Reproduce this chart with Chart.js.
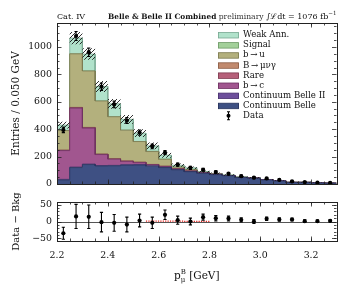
<!DOCTYPE html>
<html>
<head>
<meta charset="utf-8">
<script src="https://cdn.jsdelivr.net/npm/chart.js@4.4.1/dist/chart.umd.min.js"></script>
<style>
  html, body { margin: 0; padding: 0; background: #fff; }
  #wrap { position: relative; width: 349px; height: 291px; }
  #wrap canvas { position: absolute; left: 0; top: 0; }
</style>
</head>
<body>
<div id="wrap">
  <canvas id="mainChart" width="349" height="291"></canvas>
  <canvas id="resChart" width="349" height="291"></canvas>
</div>
<script>
// Bin edges of p_mu^B [GeV]
const binEdges = [2.20, 2.25, 2.30, 2.35, 2.40, 2.45, 2.50, 2.55, 2.60, 2.65, 2.70, 2.75,
                  2.80, 2.85, 2.90, 2.95, 3.00, 3.05, 3.10, 3.15, 3.20, 3.25, 3.30];
const xTicks = [2.2, 2.4, 2.6, 2.8, 3.0, 3.2];
const yTicksMain = [0, 200, 400, 600, 800, 1000];
const yTicksRes = [-50, 0, 50];

// Stacked components (entries per bin), bottom to top
const contBelle  = [30, 120, 142, 132, 133, 138, 139, 130, 120, 104, 90, 78, 68, 60, 47, 42, 30, 22, 11, 11, 8, 6];
const contBelle2 = [4, 4, 4, 3, 3, 3, 3, 3, 2, 2, 2, 2, 2, 1, 1, 1, 1, 1, 1, 1, 0, 0];
const bToC       = [210, 430, 262, 80, 45, 24, 14, 8, 6, 4, 2, 1, 1, 1, 0, 0, 0, 0, 0, 0, 0, 0];
const rare       = [2, 3, 3, 2, 2, 2, 2, 1, 1, 1, 1, 1, 0, 0, 0, 0, 0, 0, 0, 0, 0, 0];
const bMuNuGamma = [1, 2, 2, 2, 2, 2, 2, 1, 1, 1, 1, 0, 0, 0, 0, 0, 0, 0, 0, 0, 0, 0];
const bToU       = [143, 391, 412, 387, 306, 224, 150, 94, 50, 11, 9, 3, 2, 1, 1, 1, 0, 0, 0, 0, 0, 0];
const signal     = [0, 0, 0, 0, 0, 0, 0, 2, 2, 2, 1, 1, 0, 0, 0, 0, 0, 0, 0, 0, 0, 0];
const weakAnn    = [40, 115, 123, 106, 94, 79, 61, 39, 28, 12, 12, 5, 4, 3, 3, 2, 2, 1, 1, 1, 1, 1];
const mcErr      = [25, 45, 42, 40, 36, 32, 28, 24, 18, 12, 10, 8, 7, 6, 5, 5, 4, 3, 3, 3, 2, 2];

// Data
const dataVals = [395, 1080, 962, 710, 581, 463, 375, 274, 230, 141, 118, 104, 87, 75, 57, 46, 41, 30, 19, 14, 10, 9];
const dataErr  = [20, 33, 31, 27, 24, 22, 19, 17, 15, 12, 11, 10, 9, 9, 8, 7, 6, 5, 4, 4, 3, 3];

// Data - Bkg
const resVals = [-35, 15, 14, -2, -4, -9, 3, -4, 20, 4, 0, 13, 10, 9, 5, 0, 8, 6, 6, 1, 1, 2];
const resErr  = [18, 36, 35, 29, 25, 22, 19, 17, 14, 12, 10, 9, 8, 7, 6, 6, 5, 5, 4, 4, 3, 3];

const FONT = "'DejaVu Serif', serif";
const binCenters = binEdges.slice(0, -1).map((e, i) => (e + binEdges[i + 1]) / 2);

function stepPoints(vals) {
    const pts = [];
    vals.forEach((v, i) => {
        pts.push({ x: binEdges[i], y: v });
        pts.push({ x: binEdges[i + 1], y: v });
    });
    return pts;
}

function makeHatch() {
    const c = document.createElement('canvas');
    c.width = 4; c.height = 4;
    const g = c.getContext('2d');
    g.strokeStyle = '#1a1a1a';
    g.lineWidth = 0.9;
    g.beginPath();
    g.moveTo(0, 4); g.lineTo(4, 0);
    g.moveTo(-1, 1); g.lineTo(1, -1);
    g.moveTo(3, 5); g.lineTo(5, 3);
    g.stroke();
    return g.createPattern(c, 'repeat');
}

const layers = [
    { label: 'Continuum Belle',    vals: contBelle,  color: '#3e5083', edge: '#28345c' },
    { label: 'Continuum Belle II', vals: contBelle2, color: '#6d4f9b', edge: '#4a3370' },
    { label: 'b\u2009\u2192\u2009c',  vals: bToC,       color: '#a1568f', edge: '#6e3262' },
    { label: 'Rare',               vals: rare,       color: '#b6607a', edge: '#7f3d52' },
    { label: 'B\u2009\u2192\u2009\u03bc\u03bd\u03b3', vals: bMuNuGamma, color: '#c18a6e', edge: '#8a5d46' },
    { label: 'b\u2009\u2192\u2009u',  vals: bToU,       color: '#b3b07d', edge: '#7c7a50' },
    { label: 'Signal',             vals: signal,     color: '#a3d09a', edge: '#6e9a66' },
    { label: 'Weak Ann.',          vals: weakAnn,    color: '#b1e2cb', edge: '#78a892' }
];

let running = new Array(binCenters.length).fill(0);
const stackSets = layers.map((l, k) => {
    running = running.map((r, i) => r + l.vals[i]);
    return {
        label: l.label,
        data: stepPoints(running),
        backgroundColor: l.color,
        borderColor: l.edge,
        borderWidth: 0.8,
        fill: k === 0 ? 'origin' : '-1',
        pointRadius: 0,
        order: 10
    };
});
const total = running;

// Tick marks inside the frame on all four sides, plus the frame itself
const frameTicks = {
    id: 'frameTicks',
    afterDraw(chart, args, opts) {
        const { ctx, chartArea: a, scales: { x, y } } = chart;
        ctx.save();
        ctx.strokeStyle = '#222';
        ctx.lineWidth = 0.8;
        ctx.beginPath();
        const xs = (vals, len) => vals.forEach(v => {
            const px = Math.round(x.getPixelForValue(v)) + 0.5;
            if (px < a.left - 0.5 || px > a.right + 0.5) return;
            ctx.moveTo(px, a.bottom); ctx.lineTo(px, a.bottom - len);
            ctx.moveTo(px, a.top); ctx.lineTo(px, a.top + len);
        });
        const ys = (vals, len) => vals.forEach(v => {
            const py = Math.round(y.getPixelForValue(v)) + 0.5;
            if (py < a.top - 0.5 || py > a.bottom + 0.5) return;
            ctx.moveTo(a.left, py); ctx.lineTo(a.left + len, py);
            ctx.moveTo(a.right, py); ctx.lineTo(a.right - len, py);
        });
        xs(binEdges, 2.5);
        xs(xTicks, 4.5);
        ys(opts.yMinor, 2.5);
        ys(opts.yMajor, 4.5);
        ctx.stroke();
        ctx.lineWidth = 1;
        ctx.strokeRect(Math.round(a.left) + 0.5, Math.round(a.top) + 0.5,
                       Math.round(a.width), Math.round(a.height));
        ctx.restore();
    }
};

// Error bars for datasets carrying an errorBars array
const errorBars = {
    id: 'errorBars',
    afterDatasetsDraw(chart) {
        const { ctx, scales: { x, y } } = chart;
        ctx.save();
        ctx.strokeStyle = '#000';
        ctx.lineWidth = 1.1;
        chart.data.datasets.forEach(ds => {
            if (!ds.errorBars) return;
            ctx.beginPath();
            ds.data.forEach((p, i) => {
                const px = x.getPixelForValue(p.x);
                const y0 = y.getPixelForValue(p.y - ds.errorBars[i]);
                const y1 = y.getPixelForValue(p.y + ds.errorBars[i]);
                ctx.moveTo(px, y0); ctx.lineTo(px, y1);
                ctx.moveTo(px - 1.6, y0); ctx.lineTo(px + 1.6, y0);
                ctx.moveTo(px - 1.6, y1); ctx.lineTo(px + 1.6, y1);
            });
            ctx.stroke();
        });
        ctx.restore();
    }
};

// Legend in the upper right and header texts
const mainDecor = {
    id: 'mainDecor',
    afterDraw(chart) {
        const { ctx } = chart;
        ctx.save();
        const items = layers.slice().reverse();
        const x0 = 218, rowH = 10.1, top = 35;
        ctx.font = '8.6px ' + FONT;
        ctx.textBaseline = 'middle';
        ctx.textAlign = 'left';
        items.forEach((it, i) => {
            const cy = top + i * rowH;
            ctx.fillStyle = it.color;
            ctx.fillRect(x0, cy - 2.5, 21, 5.5);
            ctx.strokeStyle = it.edge;
            ctx.lineWidth = 0.8;
            ctx.strokeRect(x0 + 0.5, cy - 2.5, 20, 5.5);
            ctx.fillStyle = '#111';
            ctx.fillText(it.label, 243, cy);
        });
        const cy = top + items.length * rowH;
        ctx.strokeStyle = '#000';
        ctx.lineWidth = 1.1;
        ctx.beginPath();
        ctx.moveTo(228.5, cy - 4); ctx.lineTo(228.5, cy + 4);
        ctx.moveTo(227, cy - 4); ctx.lineTo(230, cy - 4);
        ctx.moveTo(227, cy + 4); ctx.lineTo(230, cy + 4);
        ctx.stroke();
        ctx.fillStyle = '#000';
        ctx.beginPath(); ctx.arc(228.5, cy, 2, 0, Math.PI * 2); ctx.fill();
        ctx.fillStyle = '#111';
        ctx.fillText('Data', 243, cy);

        // header
        const base = 18.5;
        ctx.textBaseline = 'alphabetic';
        ctx.font = '8px ' + FONT;
        ctx.fillText('Cat. IV', 57, base);
        const parts = [
            { t: 'Belle & Belle II Combined', f: 'bold 7.4px ' + FONT, dy: 0 },
            { t: ' preliminary ', f: '7.6px ' + FONT, dy: 0 },
            { t: '\u222b\u2112dt = 1076 fb', f: '8px ' + FONT, dy: 0 },
            { t: '\u22121', f: '5.6px ' + FONT, dy: -3.5 }
        ];
        let w = 0;
        parts.forEach(p => { ctx.font = p.f; p.w = ctx.measureText(p.t).width; w += p.w; });
        let x = chart.chartArea.right - w;
        parts.forEach(p => {
            ctx.font = p.f;
            ctx.fillStyle = p.t === ' preliminary ' ? '#333' : '#111';
            ctx.fillText(p.t, x, base + p.dy);
            x += p.w;
        });
        ctx.restore();
    }
};

const resDecor = {
    id: 'resDecor',
    beforeDatasetsDraw(chart) {
        const { ctx, chartArea: a, scales: { y } } = chart;
        const py = Math.round(y.getPixelForValue(0)) + 0.5;
        ctx.save();
        ctx.strokeStyle = '#555';
        ctx.lineWidth = 1;
        ctx.beginPath(); ctx.moveTo(a.left, py); ctx.lineTo(a.right, py); ctx.stroke();
        ctx.restore();
    },
    afterDraw(chart) {
        const { ctx, chartArea: a } = chart;
        ctx.save();
        ctx.fillStyle = '#111';
        ctx.textBaseline = 'alphabetic';
        const parts = [
            { t: 'p', f: '10.5px ' + FONT, dy: 0 },
            { t: 'B', f: '7px ' + FONT, dy: -5 },
            { t: ' [GeV]', f: '10.5px ' + FONT, dy: 0 }
        ];
        let w = 0;
        parts.forEach(p => { ctx.font = p.f; p.w = ctx.measureText(p.t).width; w += p.w; });
        const base = 279;
        let x = (a.left + a.right) / 2 - w / 2;
        parts.forEach(p => {
            ctx.font = p.f;
            ctx.fillText(p.t, x, base + p.dy);
            if (p.t === 'p') {
                ctx.font = '7px ' + FONT;
                ctx.fillText('\u03bc', x + p.w, base + 2.5);
            }
            x += p.w;
        });
        ctx.restore();
    }
};

function yAxisBase(ticks, min, max, title, titleSize, pad) {
    return {
        type: 'linear',
        min: min,
        max: max,
        afterBuildTicks: s => { s.ticks = ticks.map(v => ({ value: v })); },
        afterFit: s => { s.width = 57; },
        grid: { display: false, drawTicks: false },
        border: { display: false },
        ticks: {
            padding: 5, color: '#111', font: { family: FONT, size: 9.4 },
            callback: v => (v < 0 ? '\u2212' + Math.abs(v) : String(v))
        },
        title: { display: true, text: title, color: '#111', padding: { top: pad, bottom: 0 },
                 font: { family: FONT, size: titleSize } }
    };
}

function initMainChart() {
    const ctx = document.getElementById('mainChart');
    const hatchLo = {
        label: 'unc lo',
        data: stepPoints(total.map((t, i) => t - mcErr[i])),
        borderWidth: 0, pointRadius: 0, fill: false, order: 5
    };
    const hatchHi = {
        label: 'unc hi',
        data: stepPoints(total.map((t, i) => t + mcErr[i])),
        borderWidth: 0, pointRadius: 0, fill: '-1',
        backgroundColor: makeHatch(), order: 5
    };
    const dataSet = {
        label: 'Data',
        data: binCenters.map((c, i) => ({ x: c, y: dataVals[i] })),
        showLine: false,
        pointRadius: 2.1,
        pointBackgroundColor: '#000',
        pointBorderWidth: 0,
        errorBars: dataErr,
        order: 0
    };
    new Chart(ctx, {
        type: 'line',
        data: { datasets: [...stackSets, hatchLo, hatchHi, dataSet] },
        options: {
            responsive: false,
            animation: false,
            events: [],
            layout: { padding: { top: 23, right: 12.5, bottom: 107, left: 0 } },
            plugins: {
                legend: { display: false },
                tooltip: { enabled: false },
                frameTicks: { yMajor: yTicksMain, yMinor: [50, 100, 150, 250, 300, 350, 450, 500, 550, 650, 700, 750, 850, 900, 950, 1050, 1100, 1150] }
            },
            scales: {
                x: {
                    type: 'linear', min: 2.2, max: 3.3,
                    ticks: { display: false },
                    grid: { display: false },
                    border: { display: false },
                    afterFit: s => { s.height = 0; }
                },
                y: yAxisBase(yTicksMain, 0, 1175, 'Entries / 0.050 GeV', 10.5, 10)
            }
        },
        plugins: [frameTicks, errorBars, mainDecor]
    });
}

function initResChart() {
    const ctx = document.getElementById('resChart');
    const sigPts = [];
    signal.forEach((v, i) => {
        if (v > 0) {
            sigPts.push({ x: binEdges[i], y: v * 0.5 });
            sigPts.push({ x: binEdges[i + 1], y: v * 0.5 });
        }
    });
    const resMinor = [];
    for (let v = -50; v <= 50; v += 10) resMinor.push(v);
    new Chart(ctx, {
        type: 'line',
        data: {
            datasets: [
                {
                    label: 'Data - Bkg',
                    data: binCenters.map((c, i) => ({ x: c, y: resVals[i] })),
                    showLine: false,
                    pointRadius: 2.1,
                    pointBackgroundColor: '#000',
                    pointBorderWidth: 0,
                    errorBars: resErr,
                    order: 0
                },
                {
                    label: 'Signal',
                    data: sigPts,
                    borderColor: '#e0201b',
                    borderWidth: 1.2,
                    borderDash: [1.2, 1.2],
                    pointRadius: 0,
                    fill: false,
                    order: 1
                }
            ]
        },
        options: {
            responsive: false,
            animation: false,
            events: [],
            layout: { padding: { top: 202, right: 12.5, bottom: 0, left: 0 } },
            plugins: {
                legend: { display: false },
                tooltip: { enabled: false },
                frameTicks: { yMajor: yTicksRes, yMinor: resMinor }
            },
            scales: {
                x: {
                    type: 'linear', min: 2.2, max: 3.3,
                    afterBuildTicks: s => { s.ticks = xTicks.map(v => ({ value: v })); },
                    afterFit: s => { s.height = 50; },
                    grid: { display: false, drawTicks: false },
                    border: { display: false },
                    ticks: {
                        padding: 9, color: '#111', maxRotation: 0,
                        font: { family: FONT, size: 9.4 },
                        callback: v => v.toFixed(1)
                    }
                },
                y: yAxisBase(yTicksRes, -58, 58, 'Data \u2212 Bkg', 10, 10)
            }
        },
        plugins: [frameTicks, errorBars, resDecor]
    });
}

document.addEventListener('DOMContentLoaded', function() {
    initMainChart();
    initResChart();
});
</script>
</body>
</html>
